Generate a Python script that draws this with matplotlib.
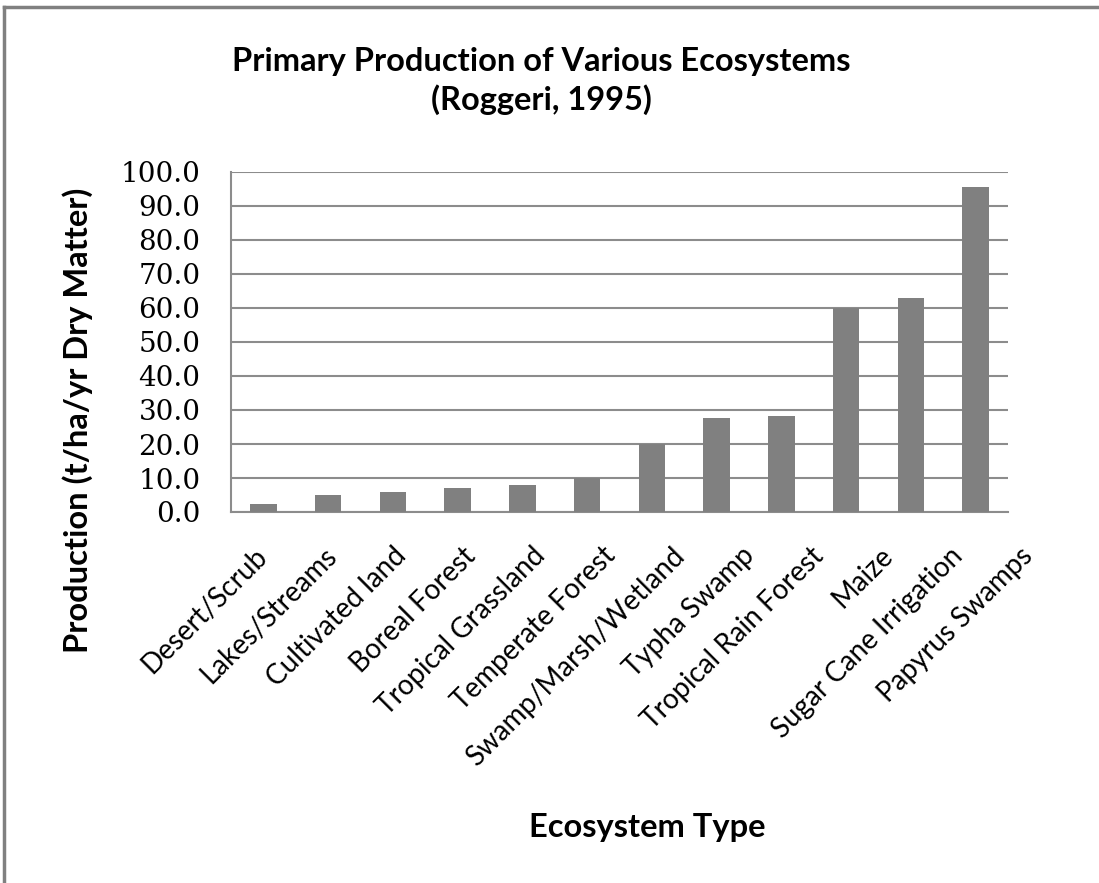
import matplotlib
matplotlib.use("Agg")
import matplotlib.pyplot as plt
from matplotlib.lines import Line2D

categories = ["Desert/Scrub", "Lakes/Streams", "Cultivated land", "Boreal Forest",
              "Tropical Grassland", "Temperate Forest", "Swamp/Marsh/Wetland",
              "Typha Swamp", "Tropical Rain Forest", "Maize",
              "Sugar Cane Irrigation", "Papyrus Swamps"]
production = [2.3, 4.9, 5.9, 7.0, 8.0, 10.0, 20.0, 27.6, 28.1, 60.0, 63.0, 95.7]
yticks = [0, 10, 20, 30, 40, 50, 60, 70, 80, 90, 100]

SANS = "Lato"
W, H = 1099, 883
fig = plt.figure(figsize=(W / 100, H / 100), dpi=100)
ax = fig.add_axes([231 / W, 1 - 512 / H, 777 / W, 340 / H])

x = list(range(len(categories)))
ax.bar(x, production, width=0.41, color="#808080", zorder=3)
ax.set_xlim(-0.5, len(categories) - 0.5)
ax.set_ylim(0, 100)
ax.set_yticks(yticks)
ax.set_yticklabels([f"{v:.1f}" for v in yticks], family="DejaVu Serif", fontsize=20)
ax.set_xticks(x)
ax.set_xticklabels([])
ax.tick_params(axis="both", length=0)
ax.tick_params(axis="y", pad=22)
ax.grid(axis="y", color="#8c8c8c", lw=1.5, zorder=0)
for s in ["top", "right"]:
    ax.spines[s].set_visible(False)
for s in ["left", "bottom"]:
    ax.spines[s].set_color("#8c8c8c")
    ax.spines[s].set_linewidth(1.5)

# category labels are spread a little wider than the bars in the original
lab = fig.add_axes([219 / W, 1 - 512 / H, 835 / W, 0.0001])
lab.set_xlim(-0.5, len(categories) - 0.5)
lab.set_xticks(x)
lab.set_xticklabels(categories, rotation=45, ha="right", va="top",
                    rotation_mode="anchor", family=SANS, fontsize=20)
lab.tick_params(axis="x", length=0, pad=22)
lab.set_yticks([])
lab.patch.set_visible(False)
for s in lab.spines.values():
    s.set_visible(False)

fig.text(541 / W, 1 - 62 / H, "Primary Production of Various Ecosystems", ha="center",
         va="center", family=SANS, fontweight="bold", fontsize=23.5)
fig.text(541 / W, 1 - 100 / H, "(Roggeri, 1995)", ha="center", va="center",
         family=SANS, fontweight="bold", fontsize=23.5)
fig.text(78 / W, 1 - 420 / H, "Production (t/ha/yr Dry Matter)", rotation=90,
         ha="center", va="center", family=SANS, fontweight="bold", fontsize=23.5)
fig.text(647 / W, 1 - 828 / H, "Ecosystem Type", ha="center", va="center",
         family=SANS, fontweight="bold", fontsize=23.5)

# outer frame (top and left edges visible)
fig.add_artist(Line2D([0.004, 1.0], [0.992, 0.992], color="#808080", lw=2.5))
fig.add_artist(Line2D([0.004, 0.004], [0.0, 0.992], color="#808080", lw=2.5))

fig.savefig("out.png", dpi=100)
